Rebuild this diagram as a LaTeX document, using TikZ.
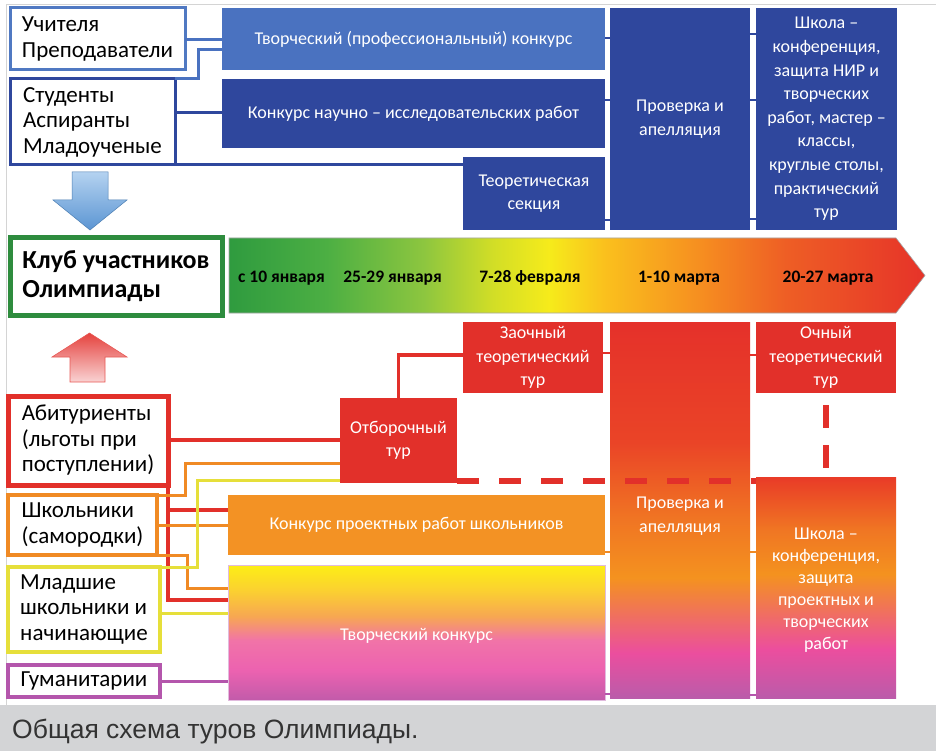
\documentclass[tikz,border=0pt]{standalone}
\usepackage{fontspec}
\setmainfont{Carlito}
\newfontfamily\capfont{Liberation Sans}
\usetikzlibrary{calc}
\definecolor{bluelt}{HTML}{4A72C0}
\definecolor{bluedk}{HTML}{2F479D}
\definecolor{bluebd}{HTML}{5079C2}
\definecolor{grn}{HTML}{2E8C3E}
\definecolor{redc}{HTML}{E2302A}
\definecolor{orc}{HTML}{F08A24}
\definecolor{orbox}{HTML}{F39224}
\definecolor{yel}{HTML}{E6DF3A}
\definecolor{pur}{HTML}{B456AC}
\definecolor{capbg}{HTML}{D3D4D6}
\definecolor{framec}{HTML}{D4D4D4}
\definecolor{capt}{HTML}{333333}
\definecolor{arrbla}{HTML}{B4D2F0}
\definecolor{arrblb}{HTML}{5B95D3}
\definecolor{arrrda}{HTML}{E5423E}
\definecolor{arrrdb}{HTML}{F9D3D3}
% timeline
\definecolor{tga}{HTML}{2F9B3F}
\definecolor{tgb}{HTML}{4CAF43}
\definecolor{tgc}{HTML}{8DC63F}
\definecolor{tgd}{HTML}{D2DE26}
\definecolor{tge}{HTML}{F6EB1B}
\definecolor{tgf}{HTML}{FAC01D}
\definecolor{tgg}{HTML}{F68D20}
\definecolor{tgh}{HTML}{EE5E25}
\definecolor{tgi}{HTML}{E63329}
\pgfdeclarehorizontalshading{tlinesh}{100bp}{color(0bp)=(tga); color(25bp)=(tga); color(32bp)=(tgb); color(39bp)=(tgc); color(44bp)=(tgd); color(48bp)=(tge); color(52bp)=(tgf); color(59bp)=(tgg); color(65bp)=(tgh); color(75bp)=(tgi); color(100bp)=(tgi)}
% proverka bottom
\definecolor{pva}{HTML}{E5312A}
\definecolor{pvb}{HTML}{EA4427}
\definecolor{pvc}{HTML}{F07423}
\definecolor{pvd}{HTML}{F4921F}
\definecolor{pve}{HTML}{EB4E9E}
\definecolor{pvf}{HTML}{BA5CAA}
\pgfdeclareverticalshading{provsh}{100bp}{color(0bp)=(pvf); color(25bp)=(pvf); color(31bp)=(pve); color(41bp)=(pvd); color(49bp)=(pvc); color(59bp)=(pvb); color(75bp)=(pva); color(100bp)=(pva)}
% shkola bottom
\definecolor{ska}{HTML}{E93B27}
\definecolor{skb}{HTML}{F07623}
\definecolor{skc}{HTML}{F4921F}
\definecolor{skd}{HTML}{EC4E9E}
\definecolor{ske}{HTML}{BB5BAA}
\pgfdeclareverticalshading{shksh}{100bp}{color(0bp)=(ske); color(25bp)=(ske); color(36bp)=(skd); color(53bp)=(skc); color(63bp)=(skb); color(75bp)=(ska); color(100bp)=(ska)}
% tvorcheskiy bottom
\definecolor{tka}{HTML}{FCEE16}
\definecolor{tkb}{HTML}{FBD22F}
\definecolor{tkc}{HTML}{F7A752}
\definecolor{tkd}{HTML}{F173A8}
\definecolor{tke}{HTML}{EC62B0}
\definecolor{tkf}{HTML}{C25BAA}
\pgfdeclareverticalshading{tvksh}{100bp}{color(0bp)=(tkf); color(25bp)=(tkf); color(36bp)=(tke); color(47bp)=(tkd); color(56bp)=(tkc); color(66bp)=(tkb); color(75bp)=(tka); color(100bp)=(tka)}
\tikzset{
  lab/.style={draw, fill=white, inner sep=0pt, outer sep=0pt, align=left, text=black, font=\fontsize{23}{25.5}\selectfont},
  bx/.style={inner sep=0pt, outer sep=0pt, align=center, text=white, font=\fontsize{18}{23.5}\selectfont},
  tl/.style={font=\bfseries\fontsize{17.5}{20}\selectfont, text=black, inner sep=0pt},
  tick/.style={line width=2pt}
}
\begin{document}
\begin{tikzpicture}[x=1pt,y=-1pt]
\useasboundingbox (0,0) rectangle (936,751);
\fill[white] (0,0) rectangle (936,751);
\fill[capbg] (0,705) rectangle (936,751);
\draw[framec, line width=1pt] (6,705) -- (6,5) -- (936,5);

% ---------- left labels
\node[lab, draw=bluebd, line width=3pt, minimum width=175pt, minimum height=62pt] (uch) at (97.5,39) {Учителя\\Преподаватели};
\node[lab, draw=bluedk, line width=3pt, minimum width=165pt, minimum height=86pt] (stud) at (92.5,122) {Студенты\\Аспиранты\\Младоученые};
\node[lab, draw=grn, line width=5pt, minimum width=212pt, minimum height=77pt, font=\bfseries\fontsize{26}{29}\selectfont] (klub) at (116,276.5) {Клуб участников\\Олимпиады};
\node[lab, draw=redc, line width=5pt, minimum width=160pt, minimum height=89pt] (abit) at (88,440.5) {Абитуриенты\\(льготы при\\поступлении)};
\node[lab, draw=orc, line width=3.5pt, minimum width=149pt, minimum height=60pt] (shk) at (82.5,525) {Школьники\\(самородки)};
\node[lab, draw=yel, line width=3.5pt, minimum width=152pt, minimum height=85pt] (mlad) at (84,609.5) {Младшие\\школьники и\\начинающие};
\node[lab, draw=pur, line width=3.5pt, minimum width=152pt, minimum height=32pt] (gum) at (84,681) {Гуманитарии};

% ---------- top blue boxes
\node[bx, fill=bluelt, minimum width=383pt, minimum height=62pt] (tvp) at (413.5,39) {Творческий (профессиональный) конкурс};
\node[bx, fill=bluedk, minimum width=383pt, minimum height=69pt] (nir) at (413.5,113.5) {Конкурс научно – исследовательских работ};
\node[bx, fill=bluedk, minimum width=142pt, minimum height=73pt] (teo) at (534,193.5) {Теоретическая\\секция};
\node[bx, fill=bluedk, minimum width=140pt, minimum height=222pt] (prova) at (680,119) {Проверка и\\апелляция};
\node[bx, fill=bluedk, minimum width=141pt, minimum height=222pt, font=\fontsize{18}{23.6}\selectfont] (shka) at (826.5,119) {Школа –\\конференция,\\защита НИР и\\творческих\\работ, мастер –\\классы,\\круглые столы,\\практический\\тур};

% ---------- timeline
\shade[shading=tlinesh, draw=black!35, line width=0.6pt] (229,238) -- (896,238) -- (925,275.5) -- (896,313) -- (229,313) -- cycle;
\node[tl, anchor=west] (ta) at (238,278) {с 10 января};
\node[tl, anchor=east] (tb) at (442,278) {25-29 января};
\node[tl] (tc) at (530,278) {7-28 февраля};
\node[tl] (td) at (679,278) {1-10 марта};
\node[tl] (te) at (828,278) {20-27 марта};

% ---------- arrows
\shade[top color=arrbla, bottom color=arrblb, draw=arrblb!85!black, line width=0.5pt] (72,172) -- (108,172) -- (108,200) -- (127,200) -- (90,230) -- (53,200) -- (72,200) -- cycle;
\shade[top color=arrrda, bottom color=arrrdb, draw=redc!80!white, line width=0.6pt] (89.5,333) -- (127,357) -- (105,357) -- (105,382) -- (70,382) -- (70,357) -- (52,357) -- cycle;

% ---------- bottom boxes
\node[bx, fill=redc, minimum width=117pt, minimum height=85pt] (otb) at (398.5,440.5) {Отборочный\\тур};
\node[bx, fill=redc, minimum width=140pt, minimum height=71pt] (zao) at (533,357.5) {Заочный\\теоретический\\тур};
\node[bx, shade, shading=provsh, minimum width=140pt, minimum height=376pt] (provb) at (680,510) {};
\node[bx] (provbt) at (680,516) {Проверка и\\апелляция};
\node[bx, fill=redc, minimum width=140pt, minimum height=71pt] (och) at (826,357.5) {Очный\\теоретический\\тур};
\node[bx, shade, shading=shksh, minimum width=140pt, minimum height=221pt] (shkb) at (826,587.5) {};
\node[bx, font=\fontsize{18}{22}\selectfont] (shkbt) at (826,590) {Школа –\\конференция,\\защита\\проектных и\\творческих\\работ};
\node[bx, fill=orbox, minimum width=377pt, minimum height=60pt] (kpr) at (416.5,525) {Конкурс проектных работ школьников};
\node[bx, shade, shading=tvksh, draw=pur!40!white, line width=1pt, minimum width=377pt, minimum height=135pt] (tvk) at (416.5,632.5) {};
\node[bx] (tvkt) at (416.5,636) {Творческий конкурс};

% ---------- top connectors
\draw[bluelt, line width=3pt] (uch.east |- 0,40) -- (tvp.west |- 0,40);
\draw[bluelt, line width=3pt] (stud.north east) -- ++(23,0) |- (tvp.west |- 0,50);
\draw[bluedk, line width=3pt] (stud.east |- 0,113) -- (nir.west |- 0,113);
\draw[bluedk, line width=3pt] (stud.south east) -- (teo.west |- 0,165);
\draw[bluedk, tick] (tvp.east |- 0,38) -- (prova.west |- 0,38);
\draw[bluedk, tick] (nir.east |- 0,100) -- (prova.west |- 0,100);
\draw[bluedk, tick] (teo.east |- 0,220) -- (prova.west |- 0,220);
\draw[bluedk, tick] (prova.east |- 0,34) -- (shka.west |- 0,34);
\draw[bluedk, tick] (prova.east |- 0,100) -- (shka.west |- 0,100);
\draw[bluedk, tick] (prova.east |- 0,219) -- (shka.west |- 0,219);

% ---------- bottom connectors
\draw[redc, line width=4pt] (abit.east |- 0,440) -- (otb.west |- 0,440);
\draw[redc, line width=4pt] (abit.south east) |- (kpr.west |- 0,510);
\draw[redc, line width=4pt] (abit.south east) |- (tvk.west |- 0,600);
\draw[redc, line width=3.5pt] (otb.north) |- (zao.west |- 0,355);
\draw[orc, line width=3pt] (shk.north east) -- ++(28,0) |- (otb.west |- 0,463);
\draw[orc, line width=3pt] (shk.east) -- (kpr.west |- shk.east);
\draw[orc, line width=3pt] (shk.south east) -- ++(30,0) |- (tvk.west |- 0,588);
\draw[yel, line width=3pt] (mlad.north east) -- ++(37,0) |- (otb.west |- 0,480);
\draw[yel, line width=3pt] (mlad.east |- 0,613) -- (tvk.west |- 0,613);
\draw[pur, line width=3pt] (gum.east) -- (tvk.west |- gum.east);
\draw[redc, tick] (zao.east |- 0,353) -- (provb.west |- 0,353);
\draw[redc, tick] (provb.east |- 0,355) -- (och.west |- 0,355);
\draw[orc, tick] (kpr.east |- 0,552) -- (provb.west |- 0,552);
\draw[pur, tick] (tvk.east |- 0,694) -- (provb.west |- 0,694);
\draw[orc, tick] (provb.east |- 0,552) -- (shkb.west |- 0,552);
\draw[pur, tick] (provb.east |- 0,695) -- (shkb.west |- 0,695);

% ---------- dashed
\draw[redc, line width=6pt, dash pattern=on 22pt off 20pt] ([yshift=2pt]otb.south east) -- ([yshift=2pt]otb.south east -| shkb.west);
\draw[redc, line width=6pt, dash pattern=on 23pt off 17pt] ([yshift=-12pt]och.south) -- ([yshift=9pt]shkb.north);

% ---------- caption
\node[anchor=base west, inner sep=0pt, font=\capfont\fontsize{26.5}{30}\selectfont, text=capt] (cap) at (12,738) {Общая схема туров Олимпиады.};
\end{tikzpicture}
\end{document}
